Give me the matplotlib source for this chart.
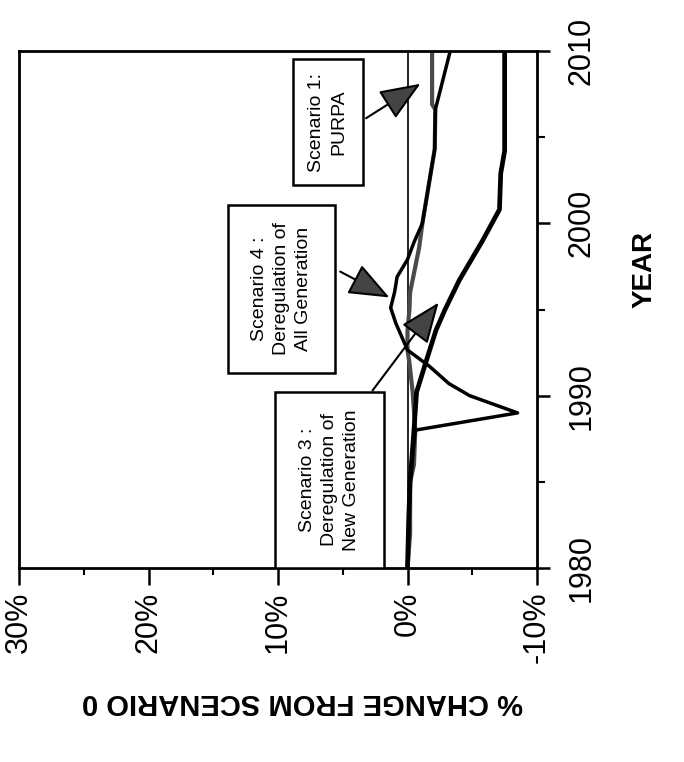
import matplotlib
matplotlib.use("Agg")
import matplotlib.pyplot as plt
from matplotlib.patches import Rectangle

# values (percent change vs year)
pct_ticks = [30, 20, 10, 0, -10]
pct_labels = ["30%", "20%", "10%", "0%", "-10%"]
year_ticks = [1980, 1990, 2000, 2010]
year_labels = ["1980", "1990", "2000", "2010"]

zero_years = [1980, 2010]
zero_vals = [0.0, 0.0]

# Scenario 3: deregulation of new generation
s3_years = [1980, 1983, 1985, 1988, 1990.2, 1991.9, 1993.8, 1995.0, 1996.7, 1999.0, 2000.8, 2002.9, 2004.2, 2010]
s3_vals = [0.0, -0.1, -0.2, -0.5, -0.7, -1.4, -2.2, -2.9, -4.0, -5.8, -7.1, -7.2, -7.5, -7.5]

# Scenario 4: deregulation of all generation
s4_years = [1980, 1985, 1988.0, 1989.0, 1990.0, 1990.7, 1991.7, 1992.65, 1994.2, 1995.1, 1996.0,
            1996.9, 1997.9, 1998.9, 2000.0, 2004.3, 2006.6, 2010]
s4_vals = [0.0, -0.2, -0.6, -8.5, -4.8, -3.2, -1.7, 0.0, 0.9, 1.3, 1.0,
           0.8, 0.0, -0.5, -1.15, -2.1, -2.15, -3.3]

# Scenario 1: PURPA
s1_years = [1980, 1982, 1985, 1986, 1988, 1990.2, 1991.9, 1992.65, 1993.8, 1995.0, 1996.0,
            1997.1, 1998.6, 2000.0, 2004.3, 2006.6, 2006.9, 2010]
s1_vals = [0.0, -0.2, -0.2, -0.5, -0.6, -0.4, -0.15, 0.0, 0.0, -0.15, -0.2,
           -0.5, -0.9, -1.15, -2.1, -2.15, -1.9, -1.9]

fig = plt.figure(figsize=(6.84, 7.62), dpi=100)
ax = fig.add_axes([19 / 684, 1 - 568 / 762, 518 / 684, 517 / 762])

ax.plot(zero_vals, zero_years, color="black", lw=1.2)
ax.plot(s1_vals, s1_years, color="#4a4a4a", lw=3.0)
ax.plot(s4_vals, s4_years, color="black", lw=2.5)
ax.plot(s3_vals, s3_years, color="black", lw=3.4)

ax.set_xlim(30, -10)
ax.set_ylim(1980, 2010)
ax.set_xticks(pct_ticks)
ax.set_xticklabels(pct_labels, rotation=90, fontsize=22, family="Liberation Sans")
ax.set_xticks([25, 15, 5, -5], minor=True)
ax.yaxis.tick_right()
ax.set_yticks(year_ticks)
ax.set_yticklabels(year_labels, rotation=90, fontsize=22, family="Liberation Sans", va="center")
ax.set_yticks([1985, 1995, 2005], minor=True)
ax.tick_params(axis="x", which="major", length=12, width=1.8, pad=5)
ax.tick_params(axis="x", which="minor", length=5, width=1.5)
ax.tick_params(axis="y", which="major", length=9, width=1.8, pad=12)
ax.tick_params(axis="y", which="minor", length=6, width=1.5)
for sp in ax.spines.values():
    sp.set_linewidth(2)

# annotation boxes
def box(x0, y0, x1, y1, text):
    fx0, fx1 = (x0 - 19) / 518, (x1 - 19) / 518
    fy0, fy1 = (568 - y1) / 517, (568 - y0) / 517
    ax.add_patch(Rectangle((fx0, fy0), fx1 - fx0, fy1 - fy0, transform=ax.transAxes,
                           fc="white", ec="black", lw=1.8, zorder=3))
    ax.text((fx0 + fx1) / 2, (fy0 + fy1) / 2, text, transform=ax.transAxes, rotation=90,
            ha="center", va="center", fontsize=14, family="Liberation Sans",
            linespacing=1.4, zorder=4)

box(293, 59, 363, 185, "Scenario 1:\nPURPA")
box(228, 205, 335, 373, "Scenario 4 :\nDeregulation of\nAll Generation")
box(275, 392, 384, 568, "Scenario 3 :\nDeregulation of\nNew Generation")

arrow = dict(arrowstyle="-|>,head_length=1.5,head_width=0.6", color="black", fc="#444444",
             lw=1.5, shrinkA=0, shrinkB=0, mutation_scale=17)
ax.annotate("", xy=(-1.0, 2008.1), xytext=(3.2, 2006.1), arrowprops=arrow)
ax.annotate("", xy=(1.4, 1995.7), xytext=(5.2, 1997.2), arrowprops=arrow)
ax.annotate("", xy=(-2.4, 1995.4), xytext=(2.7, 1990.3), arrowprops=arrow)

fig.text(645 / 684, 1 - 270 / 762, "YEAR", rotation=90, ha="center", va="center",
         fontsize=20, fontweight="bold", family="Liberation Sans")
fig.text(302 / 684, 1 - 702 / 762, "% CHANGE FROM SCENARIO 0", rotation=180,
         ha="center", va="center", fontsize=21, fontweight="bold", family="Liberation Sans")

fig.savefig("out.png", dpi=100)
